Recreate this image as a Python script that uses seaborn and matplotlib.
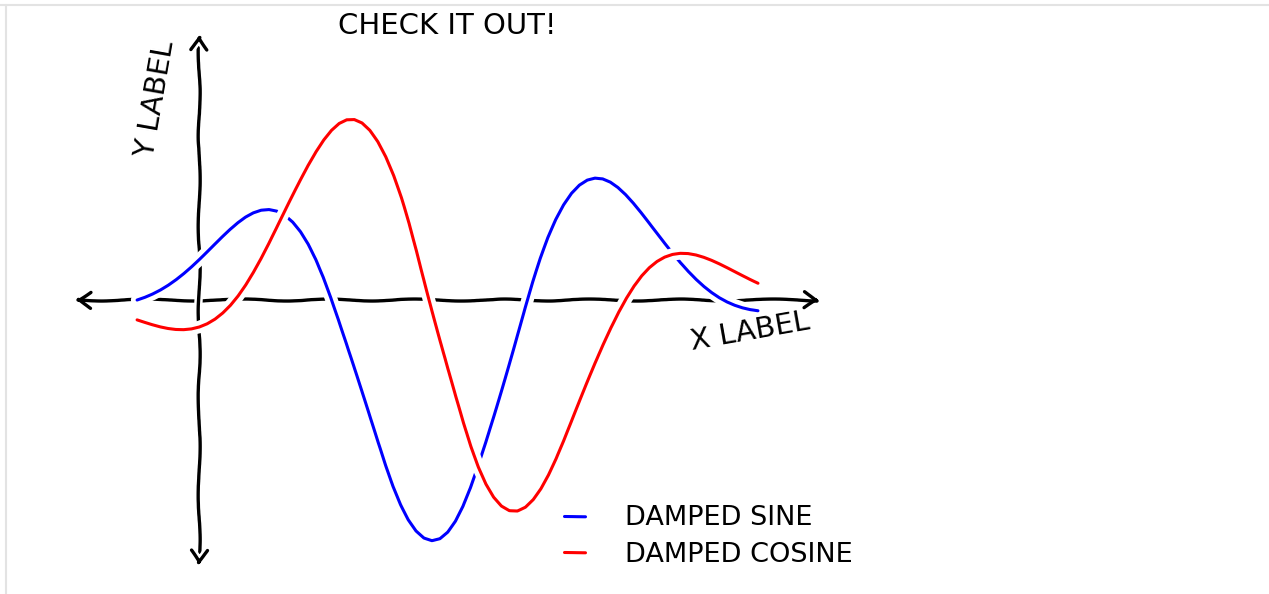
import numpy as np
import pandas as pd
import matplotlib
matplotlib.use("Agg")
import matplotlib.pyplot as plt
import matplotlib.patheffects as pe
from matplotlib.lines import Line2D
import seaborn as sns

# ---- data ----
x_vals = [0.0, 0.125, 0.25, 0.375, 0.5, 0.625, 0.75, 0.875, 1.0, 1.125, 1.25,
          1.375, 1.5, 1.625, 1.75, 1.875, 2.0, 2.125, 2.25, 2.375, 2.5, 2.625,
          2.75, 2.875, 3.0, 3.125, 3.25, 3.375, 3.5, 3.625, 3.75, 3.875, 4.0,
          4.125, 4.25, 4.375, 4.5, 4.625, 4.75, 4.875, 5.0, 5.125, 5.25, 5.375,
          5.5, 5.625, 5.75, 5.875, 6.0, 6.125, 6.25, 6.375, 6.5, 6.625, 6.75,
          6.875, 7.0, 7.125, 7.25, 7.375, 7.5, 7.625, 7.75, 7.875, 8.0, 8.125,
          8.25, 8.375, 8.5, 8.625, 8.75, 8.875, 9.0, 9.125, 9.25, 9.375, 9.5,
          9.625, 9.75, 9.875, 10.0]
damped_sine = [0.0, 0.0116, 0.0259, 0.0431, 0.0633, 0.0863, 0.1120, 0.1400,
               0.1699, 0.2010, 0.2326, 0.2636, 0.2930, 0.3196, 0.3422, 0.3593,
               0.3697, 0.3721, 0.3653, 0.3483, 0.3203, 0.2810, 0.2301, 0.1677,
               0.0946, 0.0117, -0.0797, -0.1776, -0.2801, -0.3847, -0.4889,
               -0.5898, -0.6848, -0.7710, -0.8460, -0.9075, -0.9534, -0.9823,
               -0.9931, -0.9853, -0.9589, -0.9146, -0.8536, -0.7774, -0.6881,
               -0.5882, -0.4805, -0.3677, -0.2528, -0.1388, -0.0284, 0.0759,
               0.1718, 0.2574, 0.3313, 0.3925, 0.4404, 0.4748, 0.4961, 0.5049,
               0.5021, 0.4889, 0.4669, 0.4375, 0.4022, 0.3629, 0.3208, 0.2776,
               0.2346, 0.1927, 0.1531, 0.1164, 0.0832, 0.0539, 0.0286, 0.0073,
               -0.0099, -0.0234, -0.0335, -0.0404, -0.0447]
damped_cosine = [-0.0821, -0.0921, -0.1015, -0.1096, -0.1158, -0.1196, -0.1202,
                 -0.1169, -0.1091, -0.0961, -0.0773, -0.0523, -0.0208, 0.0173,
                 0.0620, 0.1128, 0.1692, 0.2303, 0.2949, 0.3616, 0.4288, 0.4947,
                 0.5571, 0.6141, 0.6636, 0.7035, 0.7319, 0.7471, 0.7478, 0.7329,
                 0.7019, 0.6546, 0.5914, 0.5133, 0.4217, 0.3183, 0.2056, 0.0861,
                 -0.0374, -0.1616, -0.2837, -0.4004, -0.5089, -0.6066, -0.6912,
                 -0.7608, -0.8141, -0.8502, -0.8688, -0.8701, -0.8549, -0.8242,
                 -0.7798, -0.7235, -0.6574, -0.5839, -0.5054, -0.4241, -0.3423,
                 -0.2622, -0.1855, -0.1140, -0.0487, 0.0092, 0.0592, 0.1008,
                 0.1341, 0.1593, 0.1769, 0.1873, 0.1914, 0.1900, 0.1840, 0.1743,
                 0.1618, 0.1473, 0.1316, 0.1154, 0.0993, 0.0836, 0.0689]
series_labels = ["DAMPED SINE", "DAMPED COSINE"]
series_colors = ["#0000ff", "#ff0000"]
title_text = "CHECK IT OUT!"
xlabel_text = "X LABEL"
ylabel_text = "Y LABEL"
x_limits = [-1.0, 11.0]
y_limits = [-1.1, 1.1]
yaxis_at_x = 1.0
xaxis_at_y = 0.0

df = pd.DataFrame({"x": x_vals, "sine": damped_sine, "cosine": damped_cosine})

sns.set_style("white")
plt.xkcd(scale=1, length=100, randomness=2)
plt.rcParams["font.family"] = ["DejaVu Sans"]
plt.rcParams["path.effects"] = []
plt.rcParams["text.color"] = "black"

fig = plt.figure(figsize=(12.69, 5.94), dpi=100)
ax = fig.add_axes([0.0591, 0.0471, 0.5871, 0.8956])
ax.set_xlim(*x_limits)
ax.set_ylim(*y_limits)
for s in ax.spines.values():
    s.set_visible(False)
ax.set_xticks([])
ax.set_yticks([])

stroke = [pe.withStroke(linewidth=9, foreground="w")]

# axes arrows
arrow_kw = dict(arrowstyle="<->,head_length=0.45,head_width=0.3", lw=2.4,
                color="k", mutation_scale=20, shrinkA=0, shrinkB=0)
a1 = ax.annotate("", xy=(x_limits[1], xaxis_at_y), xytext=(x_limits[0], xaxis_at_y),
                 arrowprops=arrow_kw, zorder=1)
a2 = ax.annotate("", xy=(yaxis_at_x, y_limits[1]), xytext=(yaxis_at_x, y_limits[0]),
                 arrowprops=arrow_kw, zorder=1.5)
a2.arrow_patch.set_path_effects([pe.withStroke(linewidth=6, foreground="w")])

sns.lineplot(data=df, x="x", y="sine", color=series_colors[0], lw=2.2,
             label=series_labels[0], ax=ax, zorder=2)
sns.lineplot(data=df, x="x", y="cosine", color=series_colors[1], lw=2.2,
             label=series_labels[1], ax=ax, zorder=3)
for ln in ax.get_lines():
    ln.set_path_effects(stroke)
    ln.set_sketch_params(scale=0.6, length=250, randomness=2)

ax.set_xlabel("")
ax.set_ylabel("")
ax.set_title(title_text, fontsize=21, pad=0, y=1.0)
ax.text(9.88, -0.13, xlabel_text, fontsize=21, rotation=10, ha="center", va="center")
ax.text(0.3, 0.83, ylabel_text, fontsize=21, rotation=80, ha="center", va="center")

leg = ax.legend(loc="center left", bbox_to_anchor=(0.4255, 0.097),
                bbox_transform=fig.transFigure, frameon=False, fontsize=19.5,
                handlelength=0.75, handletextpad=1.5, labelspacing=0.38)
for h in leg.get_lines():
    h.set_path_effects([])
    h.set_linewidth(2.2)

# notebook output frame lines
for coords in [([0, 1], [0.991, 0.991]), ([0.0047, 0.0047], [0, 0.991])]:
    fl = Line2D(coords[0], coords[1], transform=fig.transFigure, color="#e3e3e3", lw=1.5)
    fl.set_sketch_params(None)
    fig.add_artist(fl)

fig.savefig("out.png", dpi=100)
